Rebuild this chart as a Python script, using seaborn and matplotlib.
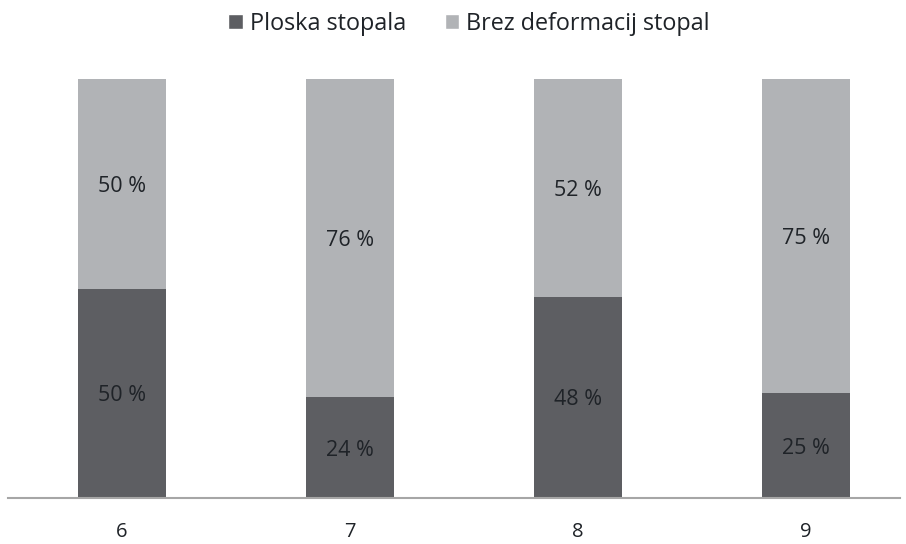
import matplotlib
matplotlib.use("Agg")
import matplotlib.pyplot as plt
import seaborn as sns
import pandas as pd
from matplotlib.patches import Patch

# Age groups and share (%) of children in each group
ages = ["6", "7", "8", "9"]
flat_feet = [50, 24, 48, 25]
no_deformity = [50, 76, 52, 75]
series_names = ["Ploska stopala", "Brez deformacij stopal"]

dark = "#5d5e62"
light = "#b1b3b6"
text_color = "#1f2328"

sns.set_theme(style="white")
plt.rcParams["font.family"] = ["Open Sans", "DejaVu Sans"]

df = pd.DataFrame({"age": ages, "flat": flat_feet, "none": no_deformity})
df["total"] = df["flat"] + df["none"]

fig = plt.figure(figsize=(9.06, 5.44), dpi=100)
ax = fig.add_axes([8 / 906, 46 / 544, 892 / 906, 419 / 544])

# Stacked bars: full column in light grey, flat-feet share in dark grey on top
sns.barplot(data=df, x="age", y="total", color=light, width=0.386,
            saturation=1, ax=ax, linewidth=0)
sns.barplot(data=df, x="age", y="flat", color=dark, width=0.386,
            saturation=1, ax=ax, linewidth=0)

n = len(ages)
top_bars = ax.patches[:n]
bottom_bars = ax.patches[n:]

for bar, v_none, v_flat in zip(top_bars, df["none"], df["flat"]):
    x = bar.get_x() + bar.get_width() / 2
    ax.text(x, v_flat + v_none / 2, f"{v_none} %", ha="center", va="center_baseline",
            fontsize=15.5, color=text_color)
for bar, v_flat in zip(bottom_bars, df["flat"]):
    x = bar.get_x() + bar.get_width() / 2
    ax.text(x, v_flat / 2, f"{v_flat} %", ha="center", va="center_baseline",
            fontsize=15.5, color=text_color)

ax.set_xlim(-0.5, 3.414)
ax.set_ylim(0, 100)
ax.set_xlabel("")
ax.set_ylabel("")
ax.set_yticks([])
ax.tick_params(axis="x", length=0, pad=17.5, labelsize=14.5, colors=text_color)
for side in ["top", "right", "left"]:
    ax.spines[side].set_visible(False)
ax.spines["bottom"].set_color("#a6a6a6")
ax.spines["bottom"].set_linewidth(1.5)

handles = [Patch(facecolor=dark, label=series_names[0]),
           Patch(facecolor=light, label=series_names[1])]
fig.legend(handles=handles, loc="center", bbox_to_anchor=(469 / 906, 1 - 24 / 544),
           ncol=2, frameon=False, fontsize=16.8, handlelength=0.62, handleheight=0.62,
           handletextpad=0.3, columnspacing=1.65, labelcolor=text_color,
           borderpad=0, borderaxespad=0)

fig.savefig("out.png", dpi=100)
